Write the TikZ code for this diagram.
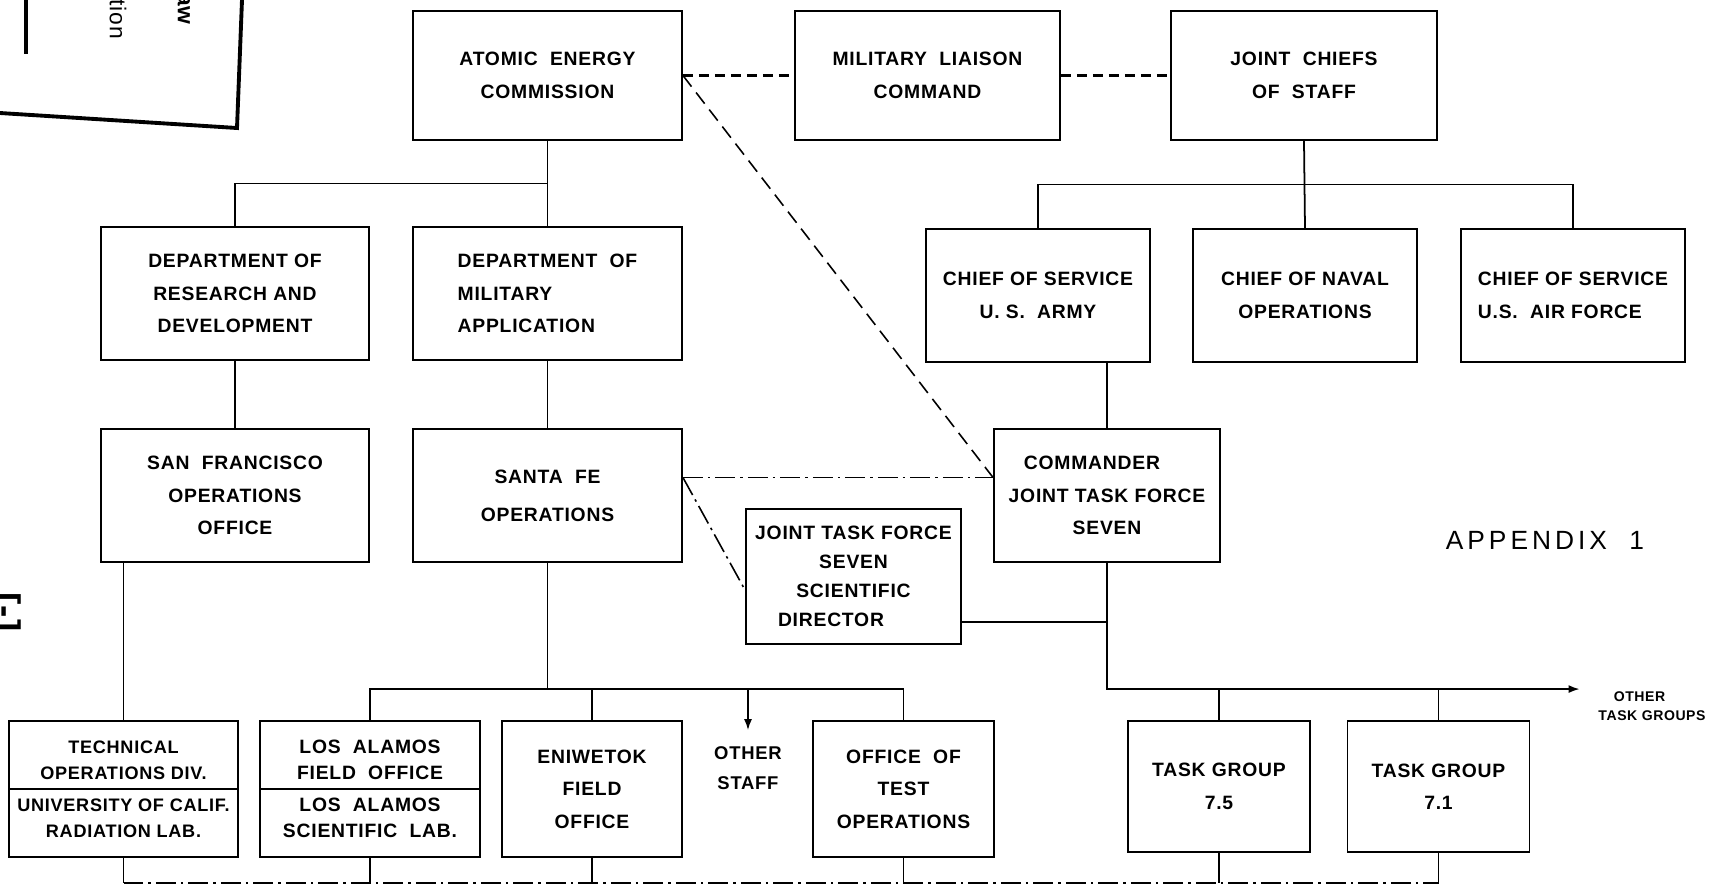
\documentclass[tikz,border=0pt]{standalone}
\usepackage{fontspec}
\setmainfont{Liberation Sans}[LetterSpace=4]
\newfontfamily\appfont{Liberation Sans}[LetterSpace=15]
\usetikzlibrary{calc,arrows.meta,positioning}

\tikzstyle{orgbox} = [draw=black, line width=1.1pt, rectangle, align=center,
    inner sep=2pt, font=\bfseries\fontsize{11}{18.5}\selectfont]
\tikzstyle{plaintext} = [align=center, inner sep=2pt,
    font=\bfseries\fontsize{10.5}{17}\selectfont]
\tikzstyle{link} = [line width=1pt]
\tikzstyle{dashlink} = [line width=1.2pt, dash pattern=on 0.2cm off 0.12cm]
\tikzstyle{longdash} = [line width=0.9pt, dash pattern=on 0.28cm off 0.15cm]
\tikzstyle{dotlink} = [line width=0.9pt, dash pattern=on 0.4cm off 0.1cm on 0.05cm off 0.1cm]

\begin{document}
\begin{tikzpicture}[x=0.02cm, y=-0.02cm]
\useasboundingbox (0,0) rectangle (1712,894);

%------------ Stempelreste am Rand ---------------------
\draw[line width=1.8pt] (26,0) -- (26,54);
\draw[line width=2.2pt] (0,113) -- (237,128) -- (242,0);
\node[rotate=-90, font=\fontsize{13}{13}\selectfont] (stampa) at (118,19) {tion};
\node[rotate=-90, font=\bfseries\fontsize{13}{13}\selectfont] (stampb) at (184,9) {aw};
\node[rotate=-90, font=\bfseries\fontsize{21}{21}\selectfont] (edgemark) at (4,612) {[-]};

%------------ obere Reihe ---------------------
\node [orgbox, minimum width=5.38cm, minimum height=2.58cm] (aec) at (547.5,75.5)
    {ATOMIC~~ENERGY\\COMMISSION};
\node [orgbox, minimum width=5.30cm, minimum height=2.58cm] (mlc) at (927.5,75.5)
    {MILITARY~~LIAISON\\COMMAND};
\node [orgbox, minimum width=5.32cm, minimum height=2.58cm] (jcs) at (1304,75.5)
    {JOINT~~CHIEFS\\OF~~STAFF};

%------------ zweite Reihe ---------------------
\node [orgbox, minimum width=5.36cm, minimum height=2.66cm] (drd) at (235,293.5)
    {DEPARTMENT OF\\RESEARCH AND\\DEVELOPMENT};
\node [orgbox, align=left, minimum width=5.38cm, minimum height=2.66cm] (dma) at (547.5,293.5)
    {DEPARTMENT~~OF\\MILITARY\\APPLICATION};
\node [orgbox, minimum width=4.48cm, minimum height=2.66cm] (army) at (1038,295.5)
    {CHIEF OF SERVICE\\U.~S.~~ARMY};
\node [orgbox, minimum width=4.48cm, minimum height=2.66cm] (cno) at (1305,295.5)
    {CHIEF OF NAVAL\\OPERATIONS};
\node [orgbox, align=left, minimum width=4.48cm, minimum height=2.66cm] (usaf) at (1573,295.5)
    {CHIEF OF SERVICE\\U.S.~~AIR FORCE};

%------------ dritte Reihe ---------------------
\node [orgbox, minimum width=5.36cm, minimum height=2.66cm] (sfoo) at (235,495.5)
    {SAN~~FRANCISCO\\OPERATIONS\\OFFICE};
\node [orgbox, font=\bfseries\fontsize{11}{21.5}\selectfont,
    minimum width=5.38cm, minimum height=2.66cm] (sfo) at (547.5,495.5)
    {SANTA~~FE\\OPERATIONS};
\node [orgbox, minimum width=4.52cm, minimum height=2.66cm] (cjtf) at (1107,495.5)
    {COMMANDER\hspace*{0.6cm}\\JOINT TASK FORCE\\SEVEN};
\node [orgbox, font=\bfseries\fontsize{11}{16.5}\selectfont,
    minimum width=4.30cm, minimum height=2.70cm] (jtfsd) at (853.5,576.5)
    {JOINT TASK FORCE\\SEVEN\\SCIENTIFIC\hspace*{1.1cm}\\DIRECTOR\hspace*{0.9cm}};

%------------ untere Reihe ---------------------
\node [orgbox, inner sep=0pt, font=\bfseries\fontsize{10.3}{14.8}\selectfont,
    minimum width=4.58cm, minimum height=2.72cm] (tod) at (123.5,789)
    {TECHNICAL\\OPERATIONS DIV.\\[0.12cm]UNIVERSITY OF CALIF.\\RADIATION LAB.};
\node [orgbox, font=\bfseries\fontsize{11}{14.8}\selectfont,
    minimum width=4.40cm, minimum height=2.72cm] (lafo) at (370,789)
    {LOS~~ALAMOS\\FIELD~~OFFICE\\[0.12cm]LOS~~ALAMOS\\SCIENTIFIC~~LAB.};
\node [orgbox, minimum width=3.60cm, minimum height=2.72cm] (eni) at (592,789)
    {ENIWETOK\\FIELD\\OFFICE};
\node [orgbox, minimum width=3.62cm, minimum height=2.72cm] (ott) at (903.5,789)
    {OFFICE~~OF\\TEST\\OPERATIONS};
\node [orgbox, minimum width=3.64cm, minimum height=2.62cm] (tg75) at (1219,786.5)
    {TASK GROUP\\7.5};
\node [orgbox, minimum width=3.64cm, minimum height=2.62cm] (tg71) at (1438.5,786.5)
    {TASK GROUP\\7.1};
\node [plaintext] (ostaff) at (748,768) {OTHER\\STAFF};
\node [plaintext, font=\bfseries\fontsize{8}{11}\selectfont] (otg) at (1652,706)
    {OTHER\hspace*{0.5cm}\\TASK GROUPS};
\node [font=\appfont\fontsize{15}{15}\selectfont] (appx) at (1545,540) {APPENDIX~~1};

\draw[line width=1.1pt] (tod.west) -- (tod.east);
\draw[line width=1.1pt] (lafo.west) -- (lafo.east);

%------------ Hilfspunkte ---------------------
\coordinate (sfoR) at ([yshift=0.36cm]sfo.east);
\coordinate (cjin) at (sfoR -| cjtf.west);
\coordinate (sdin) at ([yshift=-0.27cm]jtfsd.west);
\coordinate (sdR) at ([yshift=-0.91cm]jtfsd.east);
\coordinate (busB) at ([yshift=0.62cm]lafo.north);
\coordinate (busC) at ([yshift=-0.5cm]tod.south);

%------------ Linien ---------------------
\draw[dashlink] (aec.east) -- (mlc.west);
\draw[dashlink] (mlc.east) -- (jcs.west);
\draw[longdash] (aec.east) -- (cjin);
\draw[dotlink] (sfoR) -- (cjin);
\draw[dotlink] (sfoR) -- (sdin);

\draw[link] (aec.south) -- (dma.north);
\draw[link] (drd.north) |- ($(aec.south)!0.5!(dma.north)$);
\draw[link] (jcs.south) -- (cno.north);
\draw[link] (army.north) |- ($(jcs.south)!0.5!(cno.north)$) -| (usaf.north);
\draw[link] (drd.south) -- (sfoo.north);
\draw[link] (dma.south) -- (sfo.north);
\draw[link] (army.south -| cjtf.north) -- (cjtf.north);
\draw[link] (sfoo.south -| tod.north) -- (tod.north);
\draw[link] (sdR) -- (sdR -| cjtf.south);

\draw[link] (sfo.south) -- (sfo.south |- busB);
\draw[link] (lafo.north) -- (busB) -- (busB -| ott.north) -- (ott.north);
\draw[link] (eni.north) -- (eni.north |- busB);
\draw[link, -{Latex[length=2.2mm,width=1.6mm]}] (ostaff.north |- busB) -- ([yshift=0.25cm]ostaff.north);
\draw[link, -{Latex[length=2.2mm,width=1.6mm]}] (cjtf.south) |- ([xshift=-0.3cm]otg.west |- busB);
\draw[link] (tg75.north) -- (tg75.north |- busB);
\draw[link] (tg71.north) -- (tg71.north |- busB);

%------------ Verbindung unten ---------------------
\draw[link] (tod.south) -- (tod.south |- busC);
\draw[link] (lafo.south) -- (lafo.south |- busC);
\draw[link] (eni.south) -- (eni.south |- busC);
\draw[link] (ott.south) -- (ott.south |- busC);
\draw[link] (tg75.south) -- (tg75.south |- busC);
\draw[link] (tg71.south) -- (tg71.south |- busC);
\draw[dotlink] (tod.south |- busC) -- (tg71.south |- busC);
\end{tikzpicture}
\end{document}
